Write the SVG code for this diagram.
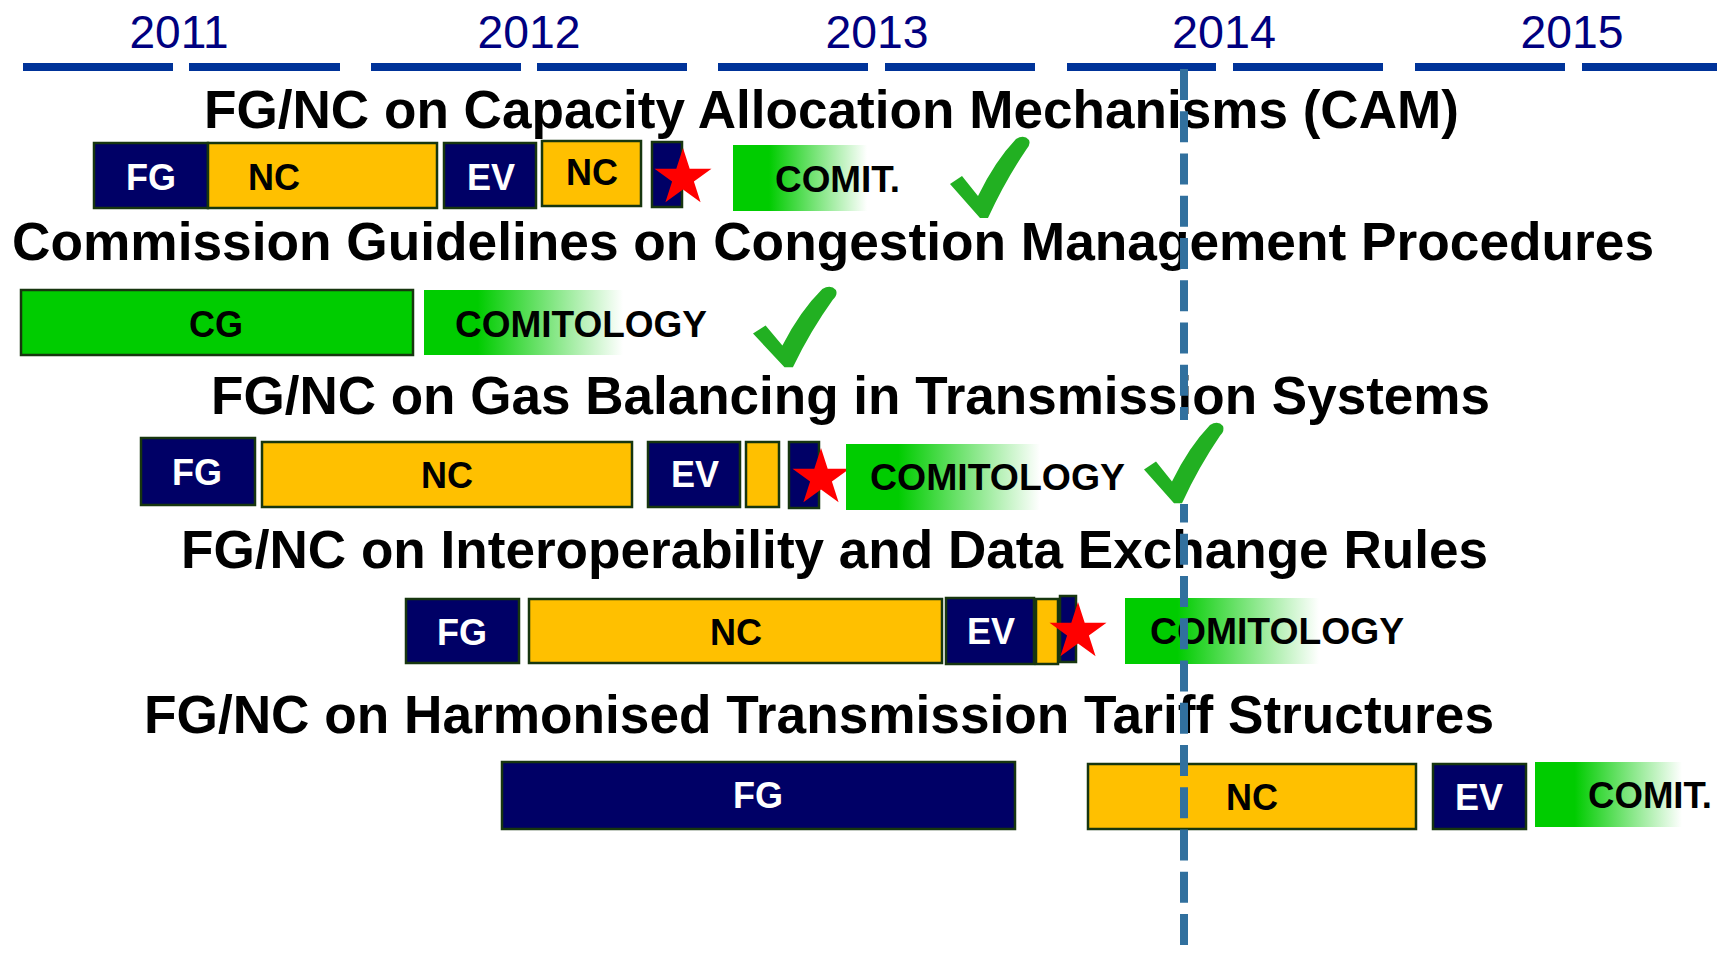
<svg xmlns="http://www.w3.org/2000/svg" width="1717" height="955" viewBox="0 0 1717 955">
<style>
.yr{font-family:"Liberation Sans",Arial,sans-serif;font-size:47px;fill:#000080;text-anchor:middle}
.tl{fill:#003399}
.tt{font-family:"Liberation Sans",Arial,sans-serif;font-size:53px;font-weight:bold;fill:#000}
.lb{font-family:"Liberation Sans",Arial,sans-serif;font-size:36px;font-weight:bold}
.w{fill:#fff;text-anchor:middle}
.k{fill:#000;text-anchor:middle}
.ks{fill:#000}
.nv{fill:#000066;stroke:#17360f;stroke-width:2.5}
.ye{fill:#ffc000;stroke:#17360f;stroke-width:2.5}
.gr{fill:#00cc00;stroke:#17360f;stroke-width:2.5}
.gd{fill:url(#fade)}
.st{fill:#ff0000}
.ck{fill:#22b022}
</style>
<defs>
<linearGradient id="fade" x1="0" y1="0" x2="1" y2="0">
<stop offset="0" stop-color="#00cc00"/>
<stop offset="0.27" stop-color="#00cc00"/>
<stop offset="1" stop-color="#ffffff"/>
</linearGradient>
<polygon id="star" points="0,-30 6.7,-9.3 28.5,-9.3 10.9,3.6 17.6,24.3 0,11.5 -17.6,24.3 -10.9,3.6 -28.5,-9.3 -6.7,-9.3"/>
<path id="check" d="M0,48 L12,40 L28,60 Q45,25 66,3 Q74,-2 79,4 Q81,9 76,14 Q55,45 38,82 L30,82 Z"/>
</defs>
<rect width="1717" height="955" fill="#fff"/>

<g id="timeline">
<rect class="tl" x="23" y="63" width="150" height="8"/>
<rect class="tl" x="189" y="63" width="151" height="8"/>
<rect class="tl" x="371" y="63" width="150" height="8"/>
<rect class="tl" x="537" y="63" width="150" height="8"/>
<rect class="tl" x="718" y="63" width="150" height="8"/>
<rect class="tl" x="885" y="63" width="150" height="8"/>
<rect class="tl" x="1067" y="63" width="149" height="8"/>
<rect class="tl" x="1233" y="63" width="150" height="8"/>
<rect class="tl" x="1415" y="63" width="150" height="8"/>
<rect class="tl" x="1582" y="63" width="135" height="8"/>
<text class="yr" x="179" y="48" textLength="99" lengthAdjust="spacingAndGlyphs">2011</text>
<text class="yr" x="529" y="48" textLength="103" lengthAdjust="spacingAndGlyphs">2012</text>
<text class="yr" x="877" y="48" textLength="103" lengthAdjust="spacingAndGlyphs">2013</text>
<text class="yr" x="1224" y="48" textLength="104" lengthAdjust="spacingAndGlyphs">2014</text>
<text class="yr" x="1572" y="48" textLength="103" lengthAdjust="spacingAndGlyphs">2015</text>
</g>

<g id="row1">
<text class="tt" x="204" y="128" textLength="1255" lengthAdjust="spacingAndGlyphs">FG/NC on Capacity Allocation Mechanisms (CAM)</text>
<rect class="nv" x="94" y="143" width="114" height="65"/>
<rect class="ye" x="208" y="143" width="229" height="65"/>
<rect class="nv" x="444" y="143" width="92" height="65"/>
<rect class="ye" x="542" y="141" width="99" height="65"/>
<rect class="nv" x="652" y="142" width="30" height="65"/>
<use href="#star" class="st" x="683" y="178"/>
<rect class="gd" x="733" y="145" width="134" height="66"/>
<text class="lb w" x="151" y="190">FG</text>
<text class="lb k" x="274" y="190">NC</text>
<text class="lb w" x="491" y="190">EV</text>
<text class="lb k" x="592" y="185">NC</text>
<text class="lb ks" x="775" y="192" textLength="125" lengthAdjust="spacingAndGlyphs">COMIT.</text>
</g>

<g id="row2">
<text class="tt" x="12" y="260" textLength="1642" lengthAdjust="spacingAndGlyphs">Commission Guidelines on Congestion Management Procedures</text>
<rect class="gr" x="21" y="290" width="392" height="65"/>
<rect class="gd" x="424" y="290" width="199" height="65"/>
<text class="lb k" x="216" y="337">CG</text>
<text class="lb ks" x="455" y="337" textLength="252" lengthAdjust="spacingAndGlyphs">COMITOLOGY</text>
</g>

<g id="row3">
<text class="tt" x="211" y="414" textLength="1279" lengthAdjust="spacingAndGlyphs">FG/NC on Gas Balancing in Transmission Systems</text>
<rect class="nv" x="141" y="438" width="114" height="67"/>
<rect class="ye" x="262" y="442" width="370" height="65"/>
<rect class="nv" x="648" y="442" width="92" height="65"/>
<rect class="ye" x="746" y="442" width="33" height="65"/>
<rect class="nv" x="789" y="442" width="30" height="66"/>
<use href="#star" class="st" x="821" y="478"/>
<rect class="gd" x="846" y="444" width="194" height="66"/>
<text class="lb w" x="197" y="485">FG</text>
<text class="lb k" x="447" y="488">NC</text>
<text class="lb w" x="695" y="487">EV</text>
<text class="lb ks" x="870" y="490" textLength="255" lengthAdjust="spacingAndGlyphs">COMITOLOGY</text>
</g>

<g id="row4">
<text class="tt" x="181" y="568" textLength="1307" lengthAdjust="spacingAndGlyphs">FG/NC on Interoperability and Data Exchange Rules</text>
<rect class="nv" x="406" y="599" width="113" height="64"/>
<rect class="ye" x="529" y="599" width="413" height="64"/>
<rect class="nv" x="946" y="598" width="88" height="66"/>
<rect class="ye" x="1036" y="599" width="22" height="65"/>
<rect class="nv" x="1060" y="596" width="16" height="66"/>
<use href="#star" class="st" x="1078" y="632"/>
<rect class="gd" x="1125" y="598" width="194" height="66"/>
<text class="lb w" x="462" y="645">FG</text>
<text class="lb k" x="736" y="645">NC</text>
<text class="lb w" x="991" y="644">EV</text>
<text class="lb ks" x="1150" y="644" textLength="254" lengthAdjust="spacingAndGlyphs">COMITOLOGY</text>
</g>

<g id="row5">
<text class="tt" x="144" y="733" textLength="1350" lengthAdjust="spacingAndGlyphs">FG/NC on Harmonised Transmission Tariff Structures</text>
<rect class="nv" x="502" y="762" width="513" height="67"/>
<rect class="ye" x="1088" y="764" width="328" height="65"/>
<rect class="nv" x="1433" y="764" width="93" height="65"/>
<rect class="gd" x="1535" y="762" width="147" height="65"/>
<text class="lb w" x="758" y="808">FG</text>
<text class="lb k" x="1252" y="810">NC</text>
<text class="lb w" x="1479" y="810">EV</text>
<text class="lb ks" x="1588" y="808" textLength="124" lengthAdjust="spacingAndGlyphs">COMIT.</text>
</g>

<g id="connectors">
<line x1="1184" y1="69" x2="1184" y2="945" stroke="#31709e" stroke-width="8" stroke-dasharray="31 11.25"/>
</g>

<g id="checks">
<use href="#check" class="ck" transform="translate(950,136)"/>
<use href="#check" class="ck" transform="translate(753,286) scale(1.05,0.99)"/>
<rect x="1142" y="420" width="86" height="84" fill="#fff"/>
<use href="#check" class="ck" transform="translate(1144,422) scale(1,0.99)"/>
</g>
</svg>
